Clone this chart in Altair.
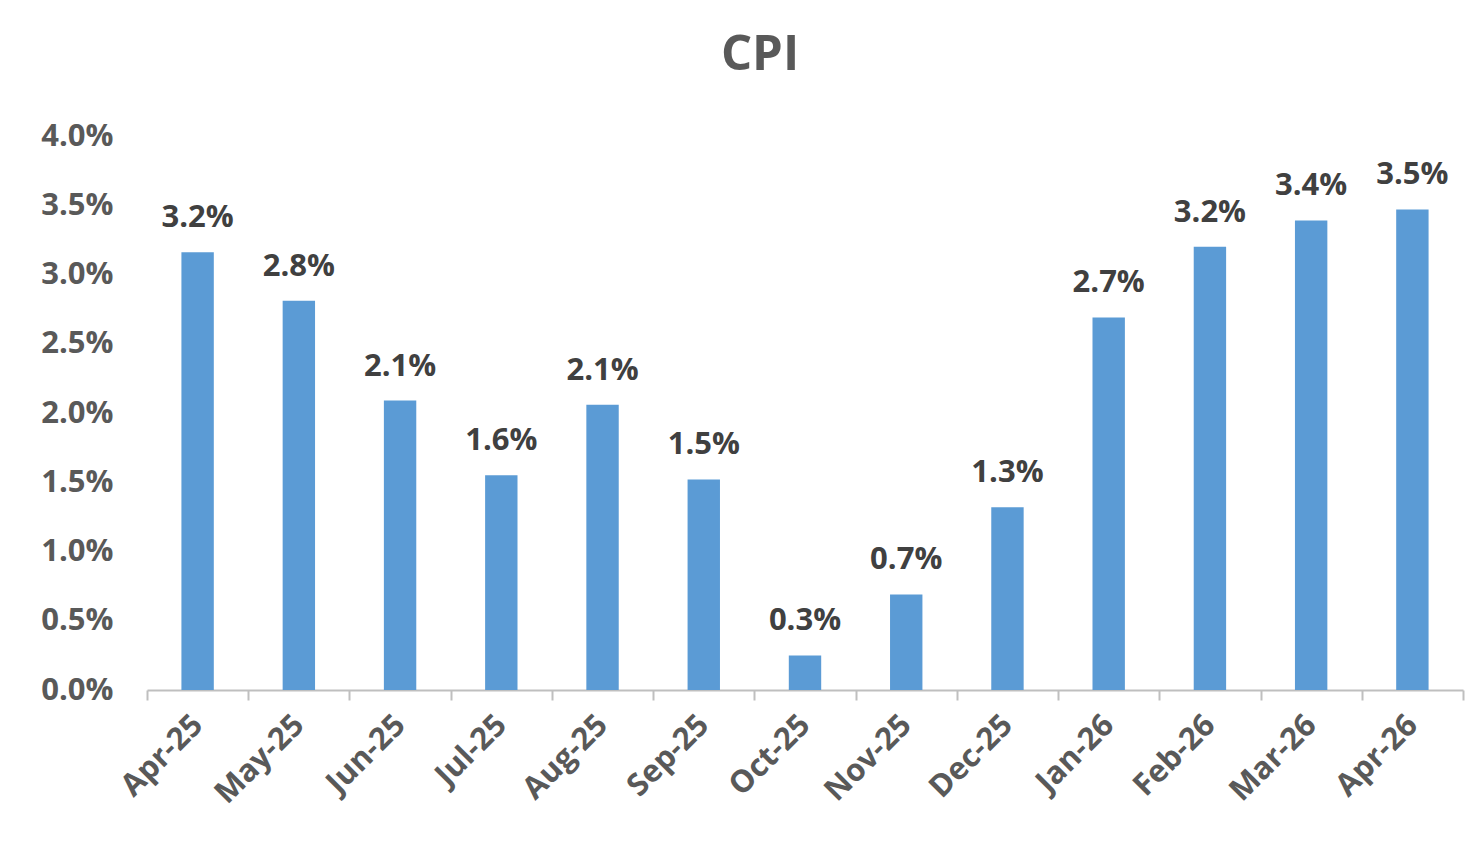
import altair as alt
import pandas as pd

months = ["Apr-25", "May-25", "Jun-25", "Jul-25", "Aug-25", "Sep-25", "Oct-25",
          "Nov-25", "Dec-25", "Jan-26", "Feb-26", "Mar-26", "Apr-26"]
cpi = [3.16, 2.81, 2.09, 1.55, 2.06, 1.52, 0.25, 0.69, 1.32, 2.69, 3.20, 3.39, 3.47]

df = pd.DataFrame({"month": months, "cpi": [v / 100 for v in cpi]})

FONT = "Open Sans"

x = alt.X("month:N", sort=months, title=None,
          scale=alt.Scale(paddingInner=0, paddingOuter=0),
          axis=alt.Axis(labelAngle=-45, labelAlign="right", labelBaseline="middle",
                        labelFont=FONT, labelFontSize=31, labelFontWeight="bold",
                        labelColor="#595959", labelPadding=20,
                        domainColor="#BFBFBF", domainWidth=2,
                        tickColor="#BFBFBF", tickWidth=2, tickSize=10,
                        tickBand="extent"))
y = alt.Y("cpi:Q", title=None,
          scale=alt.Scale(domain=[0, 0.04], nice=False),
          axis=alt.Axis(format=".1%", values=[0, 0.005, 0.01, 0.015, 0.02, 0.025, 0.03, 0.035, 0.04],
                        grid=False, domain=False, ticks=False,
                        labelFont=FONT, labelFontSize=31, labelFontWeight="bold",
                        labelColor="#595959", labelPadding=34))

bars = alt.Chart(df).mark_bar(color="#5B9BD5", width=alt.RelativeBandSize(0.32)).encode(x=x, y=y)
labels = alt.Chart(df).mark_text(font=FONT, fontSize=31, fontWeight="bold", color="#404040",
                                 baseline="bottom", dy=-18).encode(
    x=x, y=y, text=alt.Text("cpi:Q", format=".1%"))

chart = alt.layer(bars, labels).properties(
    width=1316, height=554,
    background="white",
    title=alt.TitleParams("CPI", font=FONT, fontSize=49, fontWeight="bold", color="#595959",
                          anchor="middle", dx=-45, offset=40),
    autosize=alt.AutoSizeParams(type="none"),
    padding={"left": 147, "top": 136, "right": 18, "bottom": 151},
).configure_view(strokeWidth=0, stroke=None)

chart.save("out.html", embed_options={"renderer": "svg", "actions": False})
